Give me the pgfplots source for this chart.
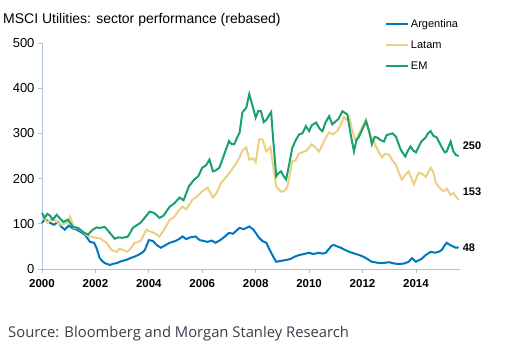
\documentclass[border=0pt]{standalone}
\usepackage{fontspec}
\setmainfont{Liberation Sans}
\newfontfamily\srcfont{Open Sans}
\usepackage{pgfplots}
\pgfplotsset{compat=1.18}
\definecolor{argc}{RGB}{0,118,192}
\definecolor{latc}{RGB}{236,208,130}
\definecolor{emc}{RGB}{24,160,110}
\definecolor{axc}{RGB}{175,195,220}
\definecolor{srcc}{RGB}{60,60,75}
\begin{document}
\begin{tikzpicture}[x=1pt,y=1pt]
\path[use as bounding box] (0,0) rectangle (505,-363);
\node[anchor=base west,inner sep=0pt,font=\fontsize{14}{16}\selectfont] at (3,-24) {MSCI Utilities: sector performance (rebased)};
\node[anchor=base west,inner sep=0pt,font=\srcfont\fontsize{14.8}{16}\selectfont,text=srcc] at (8,-337) {Source: Bloomberg and Morgan Stanley Research};
\begin{axis}[
  at={(42pt,-269pt)}, anchor=south west,
  scale only axis, width=418pt, height=226pt,
  xmin=2000, xmax=2015.65, ymin=0, ymax=500,
  axis x line*=bottom, axis y line*=left,
  axis line style={draw=axc, line width=0.8pt, -},
  xtick={2000,2002,...,2014}, ytick={0,100,...,500},
  tick style={draw=axc, line width=0.8pt},
  tick align=outside, major tick length=4pt,
  /pgf/number format/1000 sep={},
  /pgf/number format/assume math mode=true,
  xticklabel style={font=\bfseries\fontsize{11.5}{12}\selectfont, yshift=-3pt},
  yticklabel style={font=\fontsize{13}{14}\selectfont},
  legend style={at={(0.82,1.115)}, anchor=north west, draw=none, fill=none,
     font=\fontsize{11}{12}\selectfont, row sep=8pt, inner sep=0pt},
  legend cell align=left,
  legend image code/.code={\draw[#1, line width=2pt] (0pt,0pt) -- (22pt,0pt);},
  clip=false,
]
\addplot[color=argc, line width=2pt] coordinates {
(2000.0,102)(2000.1,110)(2000.2,107)(2000.3,102)(2000.45,98)(2000.6,104)(2000.7,95)(2000.85,87)(2001.0,96)(2001.15,90)(2001.3,87)(2001.45,82)(2001.6,76)(2001.8,60)(2001.95,58)(2002.05,45)(2002.16,24)(2002.25,18)(2002.35,13)(2002.54,9)(2002.7,12)(2002.8,13)(2003.0,18)(2003.15,20)(2003.3,24)(2003.45,27)(2003.6,31)(2003.75,36)(2003.85,42)(2004.0,64)(2004.15,62)(2004.3,53)(2004.45,47)(2004.6,52)(2004.78,58)(2005.0,62)(2005.15,67)(2005.26,72)(2005.4,66)(2005.55,70)(2005.75,72)(2005.9,64)(2006.05,62)(2006.2,60)(2006.35,63)(2006.5,58)(2006.7,65)(2006.85,72)(2007.0,80)(2007.15,78)(2007.3,86)(2007.4,91)(2007.55,88)(2007.76,94)(2007.9,88)(2008.0,80)(2008.13,69)(2008.25,62)(2008.4,58)(2008.5,45)(2008.58,36)(2008.68,25)(2008.77,16)(2008.95,18)(2009.14,20)(2009.3,22)(2009.45,27)(2009.63,31)(2009.8,33)(2010.0,36)(2010.15,33)(2010.37,36)(2010.5,34)(2010.63,36)(2010.75,45)(2010.85,52)(2010.93,53)(2011.05,50)(2011.19,47)(2011.35,42)(2011.5,38)(2011.65,35)(2011.87,31)(2012.0,28)(2012.1,25)(2012.24,20)(2012.35,16)(2012.55,14)(2012.73,13)(2013.0,15)(2013.2,12)(2013.35,11)(2013.55,12)(2013.73,16)(2013.85,24)(2014.0,16)(2014.2,22)(2014.37,31)(2014.55,38)(2014.7,36)(2014.85,38)(2014.97,42)(2015.05,50)(2015.15,58)(2015.25,54)(2015.35,51)(2015.5,47)(2015.6,48)
};
\addlegendentry{Argentina}
\addplot[color=latc, line width=2pt] coordinates {
(2000.0,109)(2000.1,112)(2000.2,102)(2000.3,108)(2000.45,111)(2000.6,102)(2000.7,98)(2000.85,100)(2000.97,104)(2001.05,116)(2001.2,91)(2001.35,90)(2001.53,82)(2001.72,73)(2001.9,70)(2002.05,69)(2002.2,67)(2002.3,62)(2002.42,58)(2002.6,42)(2002.8,38)(2002.9,45)(2003.03,42)(2003.2,38)(2003.35,48)(2003.47,58)(2003.6,60)(2003.72,64)(2003.9,87)(2004.0,84)(2004.1,82)(2004.25,78)(2004.4,72)(2004.55,85)(2004.78,109)(2004.95,115)(2005.1,128)(2005.26,138)(2005.4,132)(2005.63,153)(2005.8,160)(2006.0,172)(2006.2,180)(2006.4,158)(2006.55,170)(2006.7,190)(2006.9,204)(2007.05,215)(2007.2,228)(2007.4,247)(2007.5,262)(2007.65,269)(2007.76,242)(2007.9,245)(2008.0,236)(2008.13,287)(2008.25,287)(2008.4,260)(2008.55,270)(2008.65,230)(2008.77,182)(2008.95,171)(2009.05,172)(2009.18,180)(2009.3,215)(2009.37,238)(2009.5,240)(2009.6,255)(2009.75,258)(2009.9,262)(2010.1,276)(2010.25,268)(2010.37,260)(2010.5,275)(2010.62,290)(2010.75,302)(2010.9,298)(2011.05,305)(2011.2,320)(2011.3,336)(2011.4,330)(2011.5,336)(2011.6,310)(2011.75,282)(2011.87,300)(2012.0,315)(2012.13,331)(2012.25,300)(2012.42,282)(2012.55,265)(2012.73,247)(2012.85,255)(2013.0,253)(2013.12,240)(2013.25,231)(2013.35,215)(2013.47,198)(2013.6,208)(2013.73,216)(2013.92,187)(2014.1,213)(2014.25,210)(2014.37,204)(2014.55,224)(2014.65,215)(2014.74,191)(2014.93,176)(2015.05,172)(2015.15,178)(2015.3,164)(2015.4,168)(2015.5,160)(2015.6,153)
};
\addlegendentry{Latam}
\addplot[color=emc, line width=2pt] coordinates {
(2000.0,124)(2000.1,113)(2000.2,122)(2000.3,118)(2000.4,109)(2000.55,120)(2000.7,110)(2000.8,104)(2000.97,109)(2001.1,98)(2001.16,93)(2001.35,91)(2001.45,86)(2001.53,82)(2001.72,76)(2001.9,87)(2002.05,92)(2002.16,91)(2002.35,93)(2002.54,80)(2002.72,67)(2002.85,70)(2002.98,69)(2003.2,71)(2003.3,80)(2003.4,91)(2003.58,98)(2003.7,103)(2003.84,113)(2004.03,127)(2004.2,124)(2004.4,113)(2004.55,118)(2004.78,138)(2004.95,145)(2005.15,158)(2005.3,152)(2005.5,183)(2005.7,198)(2005.85,205)(2006.0,224)(2006.15,230)(2006.27,242)(2006.4,216)(2006.5,218)(2006.64,224)(2006.8,250)(2007.0,283)(2007.1,276)(2007.2,276)(2007.3,290)(2007.4,302)(2007.5,346)(2007.65,357)(2007.76,387)(2007.87,364)(2008.0,335)(2008.1,350)(2008.2,349)(2008.3,325)(2008.4,330)(2008.5,340)(2008.58,347)(2008.65,290)(2008.77,205)(2008.85,212)(2008.95,216)(2009.05,205)(2009.14,198)(2009.25,230)(2009.37,268)(2009.5,285)(2009.63,298)(2009.75,300)(2009.88,316)(2010.0,305)(2010.1,318)(2010.26,324)(2010.4,310)(2010.5,305)(2010.62,325)(2010.75,338)(2010.87,320)(2011.0,327)(2011.1,332)(2011.25,349)(2011.35,345)(2011.43,342)(2011.55,300)(2011.68,260)(2011.77,285)(2011.87,293)(2012.0,310)(2012.13,327)(2012.25,305)(2012.35,276)(2012.45,292)(2012.55,291)(2012.68,285)(2012.8,282)(2012.9,296)(2013.0,298)(2013.12,300)(2013.25,293)(2013.43,264)(2013.6,249)(2013.7,262)(2013.8,271)(2013.9,262)(2014.0,258)(2014.1,270)(2014.2,282)(2014.35,290)(2014.45,300)(2014.55,305)(2014.65,295)(2014.78,291)(2014.97,269)(2015.08,258)(2015.15,260)(2015.3,282)(2015.4,260)(2015.5,252)(2015.6,250)
};
\addlegendentry{EM}
\node[anchor=west,font=\bfseries\fontsize{11}{12}\selectfont,inner sep=0pt] at (axis cs:2015.75,272) {250};
\node[anchor=west,font=\bfseries\fontsize{11}{12}\selectfont,inner sep=0pt] at (axis cs:2015.75,171) {153};
\node[anchor=west,font=\bfseries\fontsize{11}{12}\selectfont,inner sep=0pt] at (axis cs:2015.75,47) {48};
\end{axis}
\end{tikzpicture}
\end{document}
